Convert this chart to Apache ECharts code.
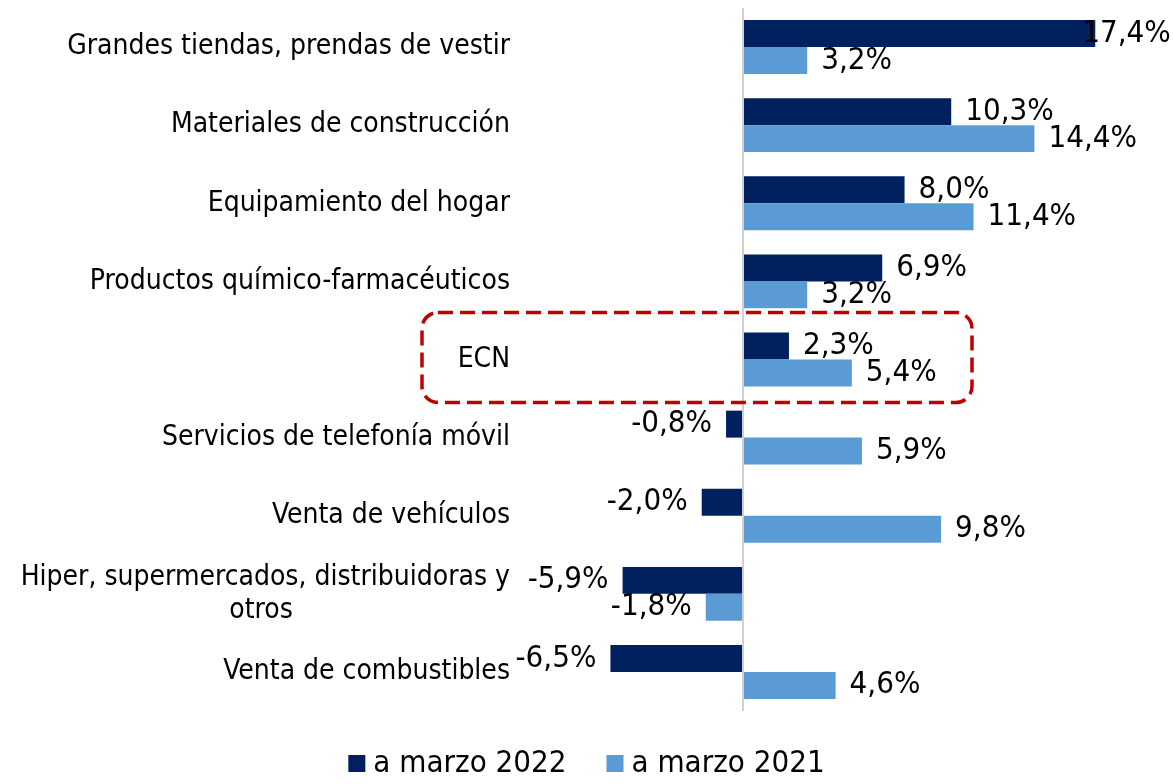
<!DOCTYPE html>
<html>
<head>
<meta charset="utf-8">
<style>
  html, body { margin: 0; padding: 0; background: #fff; }
  #chart { width: 1173px; height: 784px; }
</style>
<script src="https://cdn.jsdelivr.net/npm/echarts@6/dist/echarts.min.js"></script>
</head>
<body>
<div id="chart"></div>
<script>
// datos (variacion %)
var categorias = [
    'Grandes tiendas, prendas de vestir',
    'Materiales de construcción',
    'Equipamiento del hogar',
    'Productos químico-farmacéuticos',
    'ECN',
    'Servicios de telefonía móvil',
    'Venta de vehículos',
    'Hiper, supermercados, distribuidoras y otros',
    'Venta de combustibles'
];
var marzo2022 = [17.4, 10.3, 8.0, 6.9, 2.3, -0.8, -2.0, -5.9, -6.5];
var marzo2021 = [3.2, 14.4, 11.4, 3.2, 5.4, 5.9, 9.8, -1.8, 4.6];
var nombres = ['a marzo 2022', 'a marzo 2021'];

var FONT = '"DejaVu Sans Condensed", "Liberation Sans", sans-serif';

function fmt(v) {
    return v.toFixed(1).replace('.', ',') + '%';
}

function armarDatos(valores) {
    return valores.map(function (v) {
        var item = {
            value: v,
            label: { position: v < 0 ? 'left' : 'right' }
        };
        if (v > 16) {
            item.label.distance = -13;
        }
        return item;
    });
}

var chart = echarts.init(document.getElementById('chart'), null, { renderer: 'canvas' });

var etiquetaSerie = {
    show: true,
    distance: 14,
    fontFamily: FONT,
    fontSize: 31,
    color: '#000',
    formatter: function (p) { return fmt(p.value); }
};

var option = {
    backgroundColor: '#fff',
    animation: false,
    grid: { left: 580, width: 568, top: 8, height: 703 },
    legend: {
        bottom: 0,
        left: 'center',
        itemWidth: 17,
        itemHeight: 17,
        itemGap: 40,
        icon: 'rect',
        textStyle: { fontFamily: FONT, fontSize: 31, color: '#000', padding: [0, 0, 0, 3] },
        data: nombres
    },
    xAxis: {
        type: 'value',
        min: -8,
        max: 20,
        show: false
    },
    yAxis: {
        type: 'category',
        inverse: true,
        data: categorias,
        axisLine: { show: false },
        axisTick: { show: false },
        axisLabel: {
            margin: 70,
            fontFamily: FONT,
            fontSize: 28,
            color: '#000',
            formatter: function (v) {
                if (v.indexOf('Hiper') === 0) {
                    return '{a|Hiper, supermercados, distribuidoras y}\n{b|otros}';
                }
                return v;
            },
            rich: {
                a: { fontFamily: FONT, fontSize: 28, color: '#000', lineHeight: 33 },
                b: { fontFamily: FONT, fontSize: 28, color: '#000', lineHeight: 33, width: 498, align: 'center' }
            }
        }
    },
    series: [
        {
            name: nombres[0],
            type: 'bar',
            data: armarDatos(marzo2022),
            barGap: '0%',
            barCategoryGap: '31%',
            itemStyle: { color: '#002060' },
            label: etiquetaSerie,
            markLine: {
                silent: true,
                symbol: 'none',
                label: { show: false },
                lineStyle: { color: '#d0d0d0', width: 2, type: 'solid' },
                data: [{ xAxis: 0 }]
            }
        },
        {
            name: nombres[1],
            type: 'bar',
            data: armarDatos(marzo2021),
            itemStyle: { color: '#5b9bd5' },
            label: etiquetaSerie
        }
    ]
};

chart.setOption(option);

// recuadro rojo punteado alrededor de ECN
var cy = chart.convertToPixel({ yAxisIndex: 0 }, 'ECN');
chart.setOption({
    graphic: [{
        type: 'rect',
        silent: true,
        shape: { x: 422, y: cy - 47, width: 550, height: 90, r: 16 },
        style: { fill: 'none', stroke: '#c00000', lineWidth: 3.5, lineDash: [15, 7] },
        z: 10
    }]
});

window.onresize = function () {
    chart.resize();
};
</script>
</body>
</html>
